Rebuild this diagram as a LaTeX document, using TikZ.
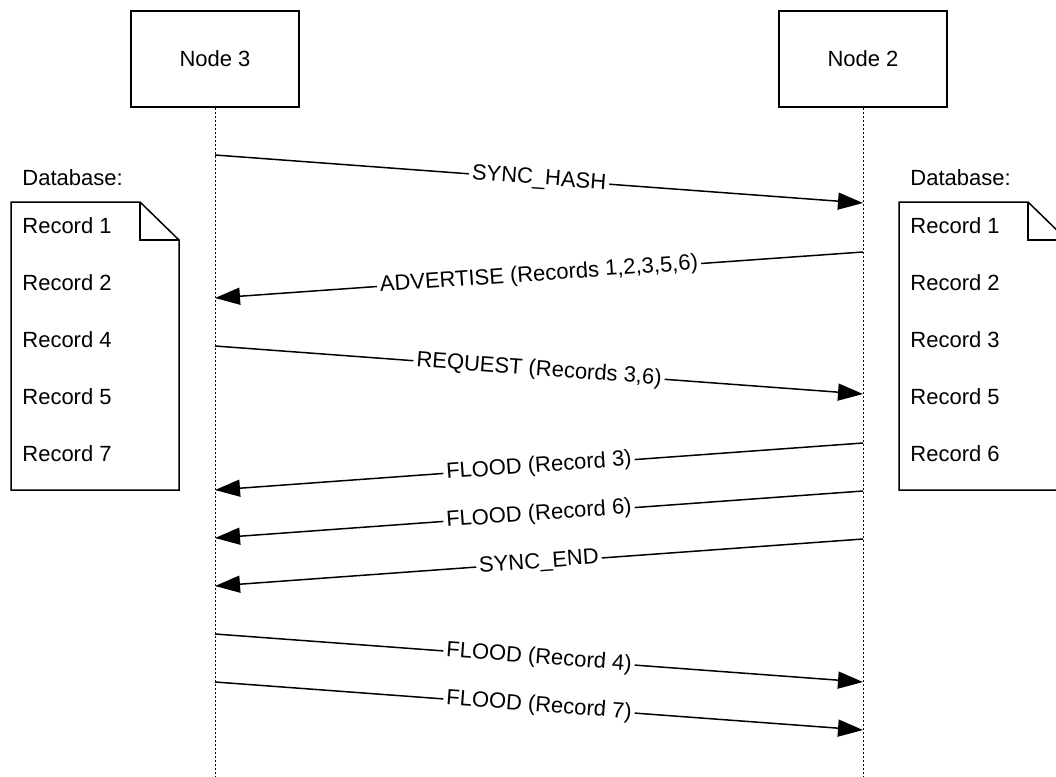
\documentclass[tikz,border=0pt]{standalone}
\usepackage{fontspec}
\setmainfont{Liberation Sans}
\usetikzlibrary{arrows.meta}

\tikzset{
    actor/.style={draw, line width=0.75pt, minimum width=84pt, minimum height=48pt},
    lifeline/.style={line width=0.5pt, dash pattern=on 1pt off 1pt},
    msg/.style={line width=0.75pt, -{Triangle[length=12.5pt, width=8.5pt]}},
    lbl/.style={midway, sloped, fill=white, inner sep=1.5pt},
    doc/.style={line width=0.75pt, line join=miter},
    rec/.style={anchor=west, inner sep=0pt}
}

\begin{document}
\begin{tikzpicture}[x=0.5pt, y=-0.5pt, every node/.style={font=\fontsize{11}{13}\selectfont}]
    \useasboundingbox (0,0) rectangle (1056,777);
    \clip (0,0) rectangle (1056,777);

    % Participants
    \node[actor] (node3) at (215,59) {Node 3};
    \node[actor] (node2) at (863,59) {Node 2};

    % Lifelines
    \draw[lifeline] (node3.south) -- (node3.south |- 0,777) coordinate (end3);
    \draw[lifeline] (node2.south) -- (node2.south |- 0,777) coordinate (end2);

    % Message end points on the lifelines
    \foreach \i/\yl/\yr in {1/155/203, 2/298/252, 3/346/394, 4/490/443,
                            5/538/491, 6/586/539, 7/634/682, 8/682/730} {
        \coordinate (L\i) at (node3.south |- 0,\yl);
        \coordinate (R\i) at (node2.south |- 0,\yr);
    }

    % Messages
    \draw[msg] (L1) -- node[lbl] {SYNC\_HASH} (R1);
    \draw[msg] (R2) -- node[lbl] {ADVERTISE (Records 1,2,3,5,6)} (L2);
    \draw[msg] (L3) -- node[lbl] {REQUEST (Records 3,6)} (R3);
    \draw[msg] (R4) -- node[lbl] {FLOOD (Record 3)} (L4);
    \draw[msg] (R5) -- node[lbl] {FLOOD (Record 6)} (L5);
    \draw[msg] (R6) -- node[lbl] {SYNC\_END} (L6);
    \draw[msg] (L7) -- node[lbl] {FLOOD (Record 4)} (R7);
    \draw[msg] (L8) -- node[lbl] {FLOOD (Record 7)} (R8);

    % Database of node 3
    \node[rec] (db3) at (22,178) {Database:};
    \draw[doc] (11,202) -- (140,202) -- (179,240) -- (179,490) -- (11,490) -- cycle;
    \draw[doc] (140,202) -- (140,240) -- (179,240);
    \foreach \k/\r in {1/1, 2/2, 3/4, 4/5, 5/7} {
        \node[rec] (db3-\k) at (22,{226+57*(\k-1)}) {Record \r};
    }

    % Database of node 2
    \node[rec] (db2) at (910,178) {Database:};
    \draw[doc] (899,202) -- (1028,202) -- (1067,240) -- (1067,490) -- (899,490) -- cycle;
    \draw[doc] (1028,202) -- (1028,240) -- (1067,240);
    \foreach \k/\r in {1/1, 2/2, 3/3, 4/5, 5/6} {
        \node[rec] (db2-\k) at (910,{226+57*(\k-1)}) {Record \r};
    }
\end{tikzpicture}
\end{document}
